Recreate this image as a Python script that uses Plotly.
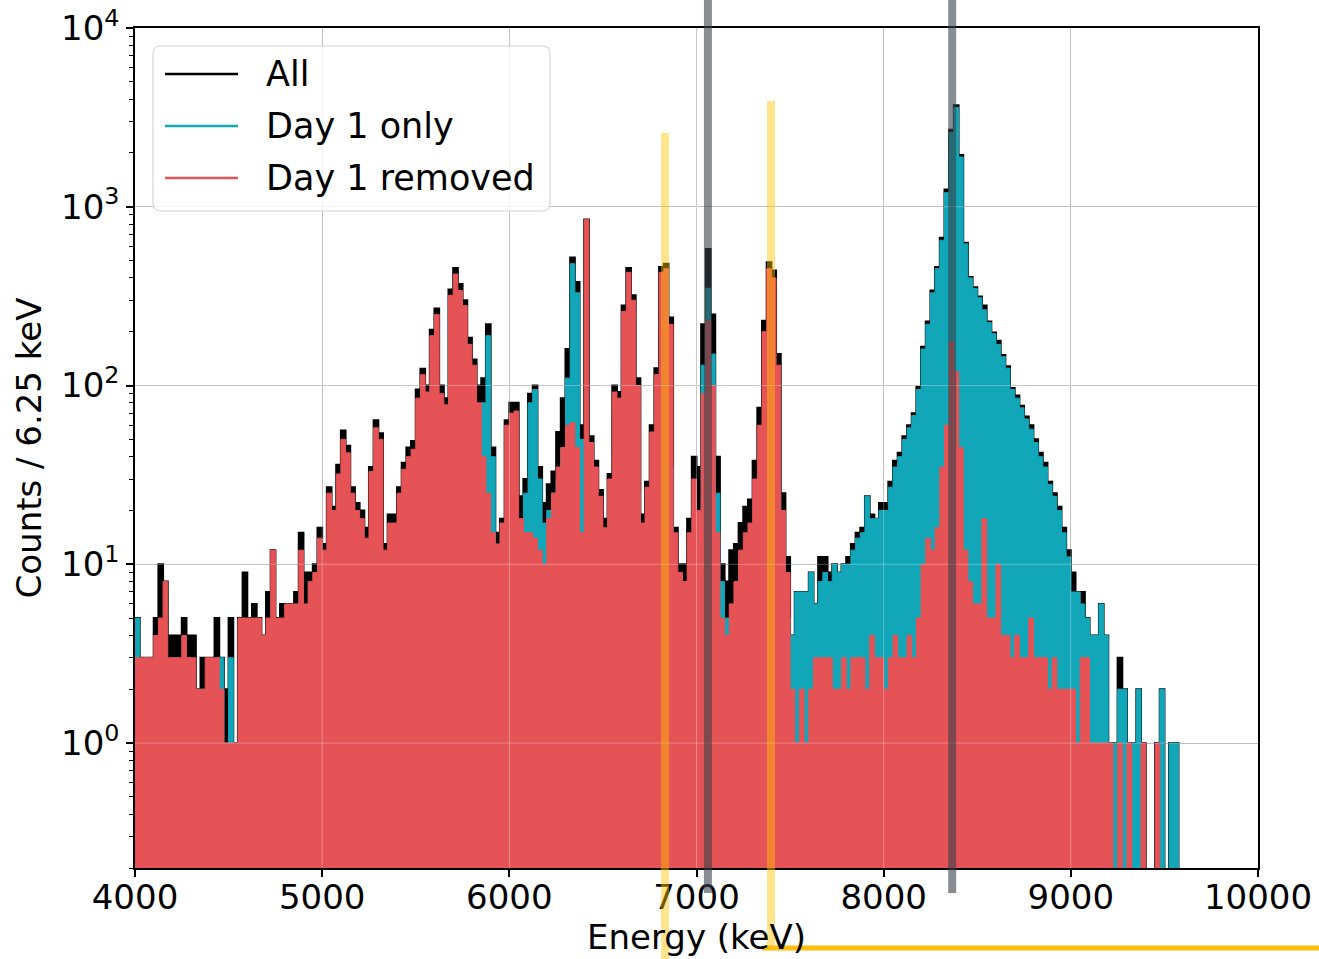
import numpy as np
import plotly.graph_objects as go

# ---------------- data (counts per 6.25 keV, 25 keV steps) -------------
E_START = 4000.0
BIN_KEV = 25.0

day1_removed = [
    3, 3, 3, 3, 4, 5, 8, 3, 3, 3,
    4, 3, 3, 2, 2, 3, 3, 3, 2, 1,
    1, 1, 5, 5, 5, 5, 5, 4, 5, 12,
    5, 5, 6, 6, 6, 12, 6, 8, 9, 14,
    12, 25, 20, 32, 50, 42, 25, 20, 18, 14,
    33, 58, 50, 12, 17, 17, 25, 34, 40, 44,
    85, 115, 92, 190, 250, 90, 78, 320, 420, 340,
    280, 170, 130, 80, 40, 25, 15, 13, 17, 60,
    70, 72, 18, 15, 15, 14, 12, 10, 18, 25,
    35, 45, 60, 62, 45, 15, 850, 48, 35, 24,
    16, 30, 92, 85, 260, 430, 300, 100, 17, 27,
    55, 115, 430, 450, 220, 15, 9, 8, 15, 30,
    20, 90, 230, 100, 15, 5, 4, 6, 8, 12,
    15, 17, 30, 60, 200, 450, 400, 130, 20, 9,
    2, 1, 2, 1, 2, 3, 3, 3, 3, 2,
    2, 3, 2, 3, 3, 3, 2, 4, 3, 3,
    2, 3, 4, 3, 3, 4, 3, 5, 10, 14,
    12, 16, 35, 60, 175, 120, 45, 12, 8, 6,
    6, 18, 5, 5, 10, 4, 4, 3, 4, 3,
    3, 5, 3, 3, 3, 2, 3, 2, 2, 2,
    2, 1, 3, 3, 1, 1, 1, 1, 1, 0,
    1, 0, 1, 0, 0, 1, 0, 0, 1, 0,
    0, 0, 0, 0,
]

day1_only = [
    5, 2, 3, 2, 2, 2, 2, 2, 3, 2,
    2, 3, 2, 2, 2, 1, 1, 2, 3, 1,
    3, 1, 1, 1, 2, 1, 1, 2, 3, 2,
    2, 1, 2, 3, 2, 2, 1, 2, 3, 3,
    3, 3, 5, 7, 5, 4, 5, 4, 3, 5,
    8, 8, 6, 0, 3, 4, 5, 8, 10, 12,
    15, 17, 22, 20, 25, 20, 28, 35, 40, 42,
    35, 40, 45, 35, 80, 190, 40, 8, 4, 8,
    12, 12, 10, 25, 80, 95, 30, 17, 20, 25,
    30, 45, 110, 480, 330, 50, 5, 5, 4, 4,
    6, 10, 15, 18, 30, 48, 45, 25, 5, 5,
    8, 20, 45, 58, 35, 5, 3, 4, 8, 15,
    18, 130, 350, 150, 25, 8, 5, 5, 6, 7,
    9, 10, 15, 22, 35, 55, 50, 25, 8, 5,
    4, 7, 7, 7, 9, 6, 8, 9, 8, 10,
    9, 10, 10, 12, 14, 15, 24, 18, 18, 20,
    20, 27, 35, 40, 50, 58, 68, 95, 160, 220,
    330, 450, 650, 1200, 2600, 3600, 1900, 620, 400, 350,
    310, 265, 225, 195, 170, 145, 125, 95, 85, 75,
    65, 57, 48, 40, 35, 28, 24, 20, 15, 11,
    7, 7, 6, 5, 4, 4, 6, 4, 1, 1,
    2, 2, 1, 1, 2, 0, 0, 0, 0, 2,
    0, 1, 1, 0,
]

all_counts = [
    5, 3, 3, 3, 5, 10, 8, 4, 4, 4,
    5, 4, 4, 2, 3, 3, 3, 5, 3, 2,
    5, 1, 5, 9, 5, 6, 5, 4, 7, 12,
    5, 6, 6, 6, 7, 15, 9, 9, 10, 16,
    13, 27, 21, 36, 56, 46, 27, 22, 20, 16,
    35, 64, 54, 13, 19, 19, 27, 37, 45, 49,
    95, 124, 100, 205, 270, 100, 85, 345, 455, 370,
    300, 185, 140, 100, 110, 220, 45, 15, 18, 64,
    80, 80, 24, 30, 90, 100, 35, 22, 28, 33,
    55, 85, 160, 520, 380, 60, 850, 52, 38, 26,
    18, 32, 100, 92, 280, 455, 320, 110, 19, 29,
    60, 125, 460, 480, 240, 16, 10, 10, 18, 40,
    35, 220, 580, 250, 40, 10, 8, 12, 13, 17,
    21, 23, 38, 75, 230, 490, 440, 150, 25, 11,
    4, 7, 7, 7, 9, 6, 11, 11, 9, 10,
    9, 10, 11, 13, 15, 16, 24, 19, 18, 22,
    22, 29, 38, 42, 52, 60, 70, 98, 165, 228,
    340, 460, 670, 1250, 2700, 3700, 1950, 630, 405, 355,
    315, 280, 228, 198, 178, 148, 128, 97, 88, 77,
    67, 60, 50, 42, 37, 29, 25, 21, 16, 12,
    9, 7, 7, 5, 4, 4, 6, 4, 1, 1,
    3, 2, 1, 1, 2, 1, 0, 0, 1, 2,
    0, 1, 1, 0,
]

series_names = ["All", "Day 1 only", "Day 1 removed"]
x_tick_vals = [4000, 5000, 6000, 7000, 8000, 9000, 10000]
x_tick_text = ["4000", "5000", "6000", "7000", "8000", "9000", "10000"]
y_tick_vals = [1, 10, 100, 1000, 10000]
y_tick_text = ["10<sup>0</sup>", "10<sup>1</sup>", "10<sup>2</sup>", "10<sup>3</sup>", "10<sup>4</sup>"]
gray_marker_kev = [7061, 8366]
yellow_marker_kev = [6832, 7398]

# ---------------- styling -------------
X_RANGE = [4000, 10000]
Y_MIN, Y_MAX = 0.2, 1e4
FLOOR = 1e-3
BLACK = "black"
CYAN = "rgb(17,166,184)"
RED = "rgb(229,83,86)"
FONT = "DejaVu Sans"
FS = 34

W, H = 1319, 959
L, R, T, B = 135, 61, 28, 91
PW, PH = W - L - R, H - T - B


def px2paper(px, py):
    return (px - L) / PW, (H - B - py) / PH


def kev2paper(e):
    return (e - X_RANGE[0]) / (X_RANGE[1] - X_RANGE[0])


def step_xy(vals):
    xs, ys = [E_START], [FLOOR]
    for i, v in enumerate(vals):
        lo = E_START + i * BIN_KEV
        hi = lo + BIN_KEV
        vv = v if v > 0 else FLOOR
        xs += [lo, hi]
        ys += [vv, vv]
    xs.append(E_START + len(vals) * BIN_KEV)
    ys.append(FLOOR)
    return xs, ys


fig = go.Figure()
for name, vals, color, lw in [
    (series_names[0], all_counts, BLACK, 2.0),
    (series_names[1], day1_only, CYAN, 1.0),
    (series_names[2], day1_removed, RED, 1.0),
]:
    xs, ys = step_xy(vals)
    fig.add_trace(go.Scatter(
        x=xs, y=ys, mode="lines", fill="toself", fillcolor=color,
        line=dict(color=color, width=lw), name=name, showlegend=False,
        hoverinfo="skip",
    ))

minor_vals = []
for d in range(-1, 4):
    for k in range(2, 10):
        v = k * 10 ** d
        if Y_MIN <= v <= Y_MAX:
            minor_vals.append(v)

shapes = []
# faint grid visible over the filled areas
for xv in x_tick_vals[1:-1]:
    shapes.append(dict(type="line", xref="x", yref="paper", x0=xv, x1=xv, y0=0, y1=1,
                       line=dict(color="rgba(255,255,255,0.3)", width=1), layer="above"))
for yv in y_tick_vals[:-1]:
    shapes.append(dict(type="line", xref="paper", yref="y", x0=0, x1=1, y0=yv, y1=yv,
                       line=dict(color="rgba(255,255,255,0.3)", width=1), layer="above"))

# highlight markers drawn over the figure
for e in gray_marker_kev:
    xp = kev2paper(e)
    shapes.append(dict(type="line", xref="paper", yref="paper", x0=xp, x1=xp,
                       y0=px2paper(0, 893)[1], y1=px2paper(0, 0)[1],
                       line=dict(color="rgba(55,65,72,0.6)", width=8), layer="above"))
yellow_spans = [(133, 959), (101, 946)]
for e, (ytop, ybot) in zip(yellow_marker_kev, yellow_spans):
    xp = kev2paper(e)
    shapes.append(dict(type="line", xref="paper", yref="paper", x0=xp, x1=xp,
                       y0=px2paper(0, ybot)[1], y1=px2paper(0, ytop)[1],
                       line=dict(color="rgba(255,196,0,0.45)", width=8), layer="above"))
hx0, hy = px2paper(762, 948)
hx1, _ = px2paper(1319, 948)
shapes.append(dict(type="line", xref="paper", yref="paper", x0=hx0, x1=hx1, y0=hy, y1=hy,
                   line=dict(color="rgb(252,190,10)", width=5), layer="above"))

# legend box (rounded)
bx0, bx1, by0, by1, rr = 153, 550, 46, 211, 8


def P(px, py):
    a, b = px2paper(px, py)
    return f"{a:.5f},{b:.5f}"


path = (f"M {P(bx0+rr, by0)} L {P(bx1-rr, by0)} Q {P(bx1, by0)} {P(bx1, by0+rr)} "
        f"L {P(bx1, by1-rr)} Q {P(bx1, by1)} {P(bx1-rr, by1)} "
        f"L {P(bx0+rr, by1)} Q {P(bx0, by1)} {P(bx0, by1-rr)} "
        f"L {P(bx0, by0+rr)} Q {P(bx0, by0)} {P(bx0+rr, by0)} Z")
shapes.append(dict(type="path", xref="paper", yref="paper", path=path,
                   fillcolor="rgba(255,255,255,0.8)", line=dict(color="#d4d4d4", width=1.2),
                   layer="above"))
annotations = []
for name, color, py in zip(series_names, [BLACK, CYAN, RED], [74, 126, 178]):
    lx0, ly = px2paper(165, py)
    lx1, _ = px2paper(238, py)
    shapes.append(dict(type="line", xref="paper", yref="paper", x0=lx0, x1=lx1, y0=ly, y1=ly,
                       line=dict(color=color, width=2.5), layer="above"))
    tx, _ = px2paper(264, py)
    annotations.append(dict(xref="paper", yref="paper", x=tx, y=ly, text=name, showarrow=False,
                            xanchor="left", yanchor="middle",
                            font=dict(family=FONT, size=35, color="black")))

fig.update_layout(
    template="none",
    width=W, height=H,
    margin=dict(l=L, r=R, t=T, b=B, autoexpand=False),
    paper_bgcolor="white", plot_bgcolor="white",
    font=dict(family=FONT, size=FS, color="black"),
    showlegend=False,
    shapes=shapes,
    annotations=annotations,
)
fig.update_xaxes(
    range=X_RANGE, tickvals=x_tick_vals, ticktext=x_tick_text, automargin=False,
    ticks="outside", ticklen=7, tickwidth=1.5, ticklabelstandoff=-9,
    tickcolor="black", showline=True, linecolor="black", linewidth=1.5, mirror=True,
    showgrid=True, gridcolor="#b0b0b0", gridwidth=1, zeroline=False,
    tickfont=dict(family=FONT, size=FS, color="black"),
    title=dict(text="Energy (keV)", standoff=6, font=dict(family=FONT, size=FS, color="black")),
)
fig.update_yaxes(
    type="log", range=[np.log10(Y_MIN), np.log10(Y_MAX)], automargin=False,
    tickvals=y_tick_vals, ticktext=y_tick_text,
    ticks="outside", ticklen=7, tickwidth=1.5, tickcolor="black",
    minor=dict(tickvals=minor_vals, ticks="outside", ticklen=4, tickwidth=1, tickcolor="black",
               showgrid=False),
    showline=True, linecolor="black", linewidth=1.5, mirror=True,
    showgrid=True, gridcolor="#b0b0b0", gridwidth=1, zeroline=False,
    tickfont=dict(family=FONT, size=FS, color="black"),
    title=dict(text="Counts / 6.25 keV", standoff=9, font=dict(family=FONT, size=FS, color="black")),
)

fig.write_html("out.html", config={"displayModeBar": False},
               post_script="document.body.style.margin='0';document.body.style.overflow='hidden';")
